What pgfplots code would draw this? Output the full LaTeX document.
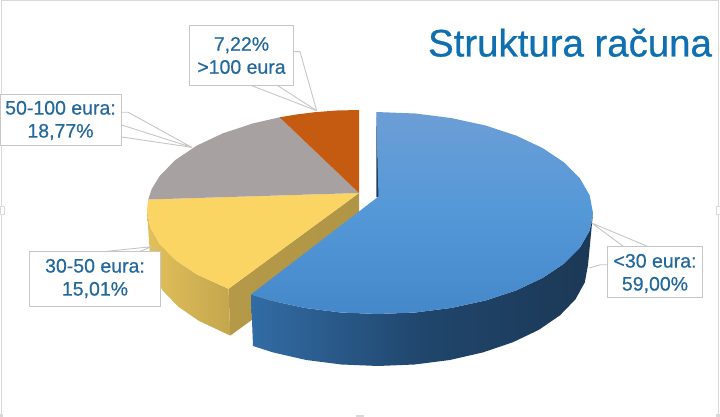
\documentclass[border=0pt]{standalone}
\usepackage{pgfplots}
\pgfplotsset{compat=1.18}
\usepackage{fontspec}
\setmainfont{Liberation Sans}
\newfontfamily\lblfont[FakeBold=0.5]{Liberation Sans}
\newfontfamily\ttlfont[FakeBold=0.7]{Liberation Sans}
\definecolor{txt}{HTML}{24699C}
\definecolor{ttl}{HTML}{0F6FB0}
\definecolor{frm}{HTML}{D9D9D9}
\definecolor{lead}{HTML}{C6C6C6}
\definecolor{orng}{HTML}{C55A11}
\definecolor{gry}{HTML}{A7A2A1}
\definecolor{yel}{HTML}{FBD564}
\definecolor{sideL}{RGB}{50,108,165}
\definecolor{sideM}{RGB}{32,70,108}
\definecolor{sideR}{RGB}{28,56,86}
\definecolor{sliver}{RGB}{30,60,90}
\definecolor{topT}{RGB}{108,158,214}
\definecolor{topM}{RGB}{84,152,216}
\definecolor{topB}{RGB}{68,136,202}
\tikzset{
  leader/.style={draw=lead, line width=0.9pt},
  box/.style={draw=lead, line width=0.9pt, fill=white},
  lbl/.style={text=txt, font=\lblfont\fontsize{19.5}{23}\selectfont, align=center, inner sep=0pt},
}
\begin{document}
\begin{tikzpicture}
\begin{axis}[
  scale only axis, width=720pt, height=418pt,
  xmin=0, xmax=720, ymin=0, ymax=418, y dir=reverse,
  hide axis,
  every axis plot/.append style={no markers, line join=round},
]
% frame of the chart area, open at the bottom
\addplot[draw=frm, line width=1pt] coordinates {(1,418) (1,1.5) (718.5,1.5) (718.5,418)};
\addplot[draw=none, fill=frm] coordinates {(0,415) (3,415) (3,418) (0,418)} -- cycle;
\addplot[draw=none, fill=frm] coordinates {(356,416) (364,416) (364,418) (356,418)} -- cycle;
\addplot[draw=none, fill=frm] coordinates {(716,415) (720,415) (720,418) (716,418)} -- cycle;
\addplot[draw=frm, line width=0.8pt, fill=white] coordinates {(0,207) (4,207) (4,215) (0,215)} -- cycle;
\addplot[draw=frm, line width=0.8pt, fill=white] coordinates {(716,207) (720,207) (720,215) (716,215)} -- cycle;

% yellow slice, inner face
\addplot[draw=none, left color=yel!72!black, right color=yel!70!black] coordinates {
  (228.5,289.8) (230.3,336.6) (359,243) (359,194)} -- cycle;
% yellow slice, outer side
\addplot[draw=none, left color=yel!90!black, right color=yel!78!black] coordinates {
  (147,211) (150.2,228.4) (159.8,245.2) (175.4,261) (196.6,275.3) (228.5,289.8)
  (230.3,336.6) (198.9,321.9) (178,307.5) (162.6,291.5) (153.2,274.5) (150,257)} -- cycle;
% top faces of the left group
\addplot[draw=none, fill=yel] coordinates {
  (359,194) (148.2,200.5) (147,211) (150.2,228.4) (159.8,245.2) (175.4,261) (196.6,275.3) (228.5,289.8)} -- cycle;
\addplot[draw=none, fill=gry] coordinates {
  (359,194) (279.6,118.3) (253,124.4) (222.7,134.4) (196.6,146.7) (175.4,161) (159.8,176.8) (151.6,190.2) (148.2,200.5)} -- cycle;
\addplot[draw=none, fill=orng] coordinates {
  (359,194) (359,111) (336.8,111.5) (314.9,113.2) (297,115.4) (279.6,118.3)} -- cycle;

% blue slice: side, sliver of the inner face, top
\addplot[draw=none, left color=sideL, right color=sideR, middle color=sideM] coordinates {
  (593,214) (589.7,231.6) (580,248.5) (564.2,264.5) (542.7,278.9) (516.2,291.4) (485.5,301.5) (451.5,308.9) (415.3,313.5)
  (378,315) (340.7,313.5) (304.5,308.9) (270.5,301.5) (251,295.5)
  (253,347) (273,353.4) (306.2,361) (341.5,365.5) (378,367) (414.5,365.5) (449.8,361) (483,353.4) (513,343.2)
  (538.9,330.8) (559.9,316.4) (575.4,300.4) (584.8,283.4) (588,266)} -- cycle;
\addplot[draw=none, fill=sliver] coordinates {(376.3,113) (376.3,198) (379,198)} -- cycle;
\addplot[draw=none, top color=topT, bottom color=topB, middle color=topM] coordinates {
  (376.3,113) (415.3,114.5) (451.5,119.1) (485.5,126.5) (516.2,136.6) (542.7,149.1) (564.2,163.5) (580,179.5) (589.7,196.4)
  (593,214) (589.7,231.6) (580,248.5) (564.2,264.5) (542.7,278.9) (516.2,291.4) (485.5,301.5) (451.5,308.9) (415.3,313.5)
  (378,315) (340.7,313.5) (304.5,308.9) (270.5,301.5) (251,295.5) (378.5,197.5)} -- cycle;

% leader lines
\addplot[leader] coordinates {(293.3,52.7) (300,52.7) (316.7,111.7) (250,86)};
\addplot[leader] coordinates {(276.7,86) (316.7,111.7)};
\addplot[leader] coordinates {(121.7,113.3) (128.3,113.3) (191.7,148.3) (121.7,126)};
\addplot[leader] coordinates {(121.7,138) (191.7,148.3)};
\addplot[leader] coordinates {(106.7,252.3) (151.7,247.7) (140,252.3)};
\addplot[leader] coordinates {(623.3,247.3) (591.7,224) (647.3,247.3)};
\addplot[leader] coordinates {(607.3,265.7) (600.7,265.7) (589.3,269)};

% label boxes
\addplot[box] coordinates {(189.5,26) (293.5,26) (293.5,86) (189.5,86)} -- cycle;
\addplot[box] coordinates {(0,95.7) (121,95.7) (121,146) (0,146)} -- cycle;
\addplot[box] coordinates {(29.3,252.3) (160.7,252.3) (160.7,307.3) (29.3,307.3)} -- cycle;
\addplot[box] coordinates {(607.3,247.3) (702.7,247.3) (702.7,298.3) (607.3,298.3)} -- cycle;

\node[lbl] at (axis cs:241.5,56.5) {7,22\%\\>100 eura};
\node[lbl] at (axis cs:60.5,121.5) {50-100 eura:\\18,77\%};
\node[lbl] at (axis cs:95,279.5) {30-50 eura:\\15,01\%};
\node[lbl] at (axis cs:655,274.5) {<30 eura:\\59,00\%};
\node[text=ttl, font=\ttlfont\fontsize{38.4}{44}\selectfont, anchor=base, inner sep=0pt] at (axis cs:570,57.5) {Struktura računa};
\end{axis}
\end{tikzpicture}
\end{document}
